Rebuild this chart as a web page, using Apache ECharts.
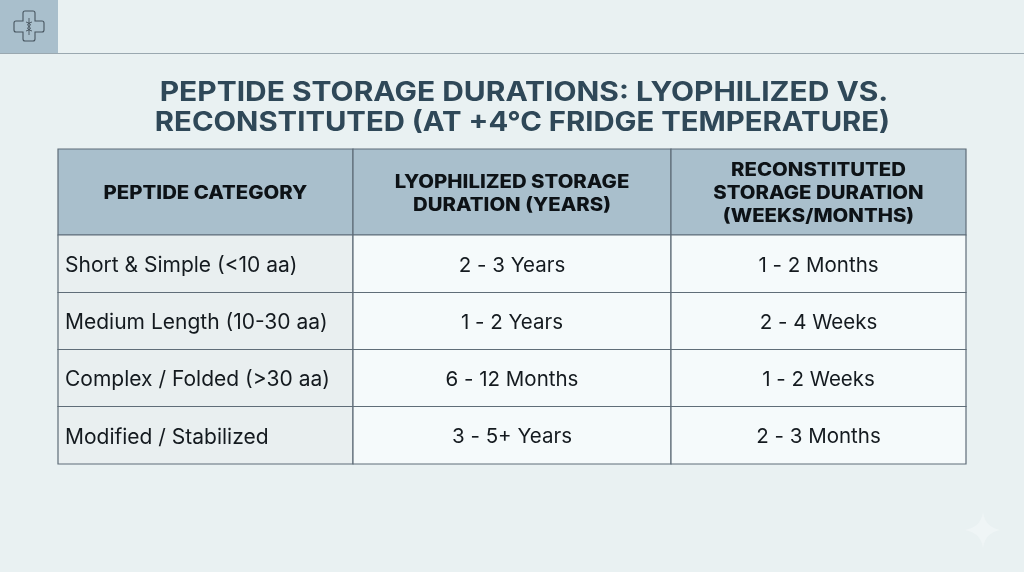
<!DOCTYPE html>
<html>
<head>
<meta charset="utf-8">
<title>Peptide storage durations</title>
<style>
html, body { margin: 0; padding: 0; background: #e9f1f2; }
#main { width: 1024px; height: 572px; }
</style>
<script src="https://cdn.jsdelivr.net/npm/echarts@6/dist/echarts.min.js"></script>
</head>
<body>
<div id="main"></div>
<script>
var titleLines = ['PEPTIDE STORAGE DURATIONS: LYOPHILIZED VS.', 'RECONSTITUTED (AT +4°C FRIDGE TEMPERATURE)'];
var columnNames = ['PEPTIDE CATEGORY', 'LYOPHILIZED STORAGE\nDURATION (YEARS)', 'RECONSTITUTED\nSTORAGE DURATION\n(WEEKS/MONTHS)'];
var categories = ['Short & Simple (<10 aa)', 'Medium Length (10-30 aa)', 'Complex / Folded (>30 aa)', 'Modified / Stabilized'];
var lyophilized = ['2 - 3 Years', '1 - 2 Years', '6 - 12 Months', '3 - 5+ Years'];
var reconstituted = ['1 - 2 Months', '2 - 4 Weeks', '1 - 2 Weeks', '2 - 3 Months'];

// table layout, in pixels of the grid below
var colStart = [0, 295, 613, 908];
var rowStart = [0, 86, 143.5, 200.5, 257.5, 315];

var font = 'Inter';
var cells = [];
for (var c = 0; c < columnNames.length; c++) {
	cells.push([c, 0, columnNames[c]]);
}
for (var r = 0; r < categories.length; r++) {
	cells.push([0, r + 1, categories[r]]);
	cells.push([1, r + 1, lyophilized[r]]);
	cells.push([2, r + 1, reconstituted[r]]);
}

function renderCell(params, api) {
	var col = api.value(0);
	var row = api.value(1);
	var text = cells[params.dataIndex][2];
	var p1 = api.coord([colStart[col], rowStart[row]]);
	var p2 = api.coord([colStart[col + 1], rowStart[row + 1]]);
	var isHead = row === 0;
	var fill = isHead ? '#a9bfcc' : (col === 0 ? '#e9eff0' : '#f5fafb');
	var mid = isHead || col > 0;
	return {
		type: 'group',
		children: [{
			type: 'rect',
			shape: { x: p1[0], y: p1[1], width: p2[0] - p1[0], height: p2[1] - p1[1] },
			style: { fill: fill, stroke: '#5f6d78', lineWidth: 1.2 }
		}, {
			type: 'text',
			x: mid ? (p1[0] + p2[0]) / 2 : p1[0] + 7,
			y: (p1[1] + p2[1]) / 2 + (isHead ? 1.5 : 2),
			scaleX: isHead ? 1.1 : 1,
			style: {
				text: text,
				fill: isHead ? '#0d1216' : '#141a1f',
				font: (isHead ? '800 18.5px ' : (col === 0 ? '400 21px ' : '400 20.5px ')) + font,
				lineHeight: 23,
				align: mid ? 'center' : 'left',
				verticalAlign: 'middle'
			}
		}]
	};
}

// the logo in the corner and the faint sparkle at the bottom right
function renderDecor() {
	return {
		type: 'group',
		children: [{
			type: 'path',
			shape: {
				pathData: 'M25 11 H33 Q35 11 35 13 V21 H42 Q44 21 44 23 V30 Q44 32 42 32 H35 V39 Q35 41 33 41 H25 Q23 41 23 39 V32 H16 Q14 32 14 30 V23 Q14 21 16 21 H23 V13 Q23 11 25 11 Z',
				x: 14, y: 11, width: 30, height: 30
			},
			style: { fill: 'none', stroke: '#47555f', lineWidth: 1.1 }
		}, {
			type: 'path',
			shape: {
				pathData: 'M29 18 V35 M26 22 Q33 24 29 26.5 Q25 29 32 31 M32 22 Q25 24 29 26.5 Q33 29 26 31',
				x: 25.5, y: 18, width: 7, height: 17
			},
			style: { fill: 'none', stroke: '#47555f', lineWidth: 0.9 }
		}, {
			type: 'path',
			shape: {
				pathData: 'M983 512 Q985 527 1000 530 Q985 533 983 548 Q981 533 965 530 Q981 527 983 512 Z',
				x: 965, y: 512, width: 35, height: 36
			},
			style: { fill: '#eff5f6' }
		}]
	};
}

var myChart = echarts.init(document.getElementById('main'), null, { renderer: 'canvas' });

myChart.setOption({
	animation: false,
	backgroundColor: '#e9f1f2',
	grid: { left: 58, top: 149, width: 908, height: 315 },
	xAxis: { type: 'value', min: 0, max: 908, show: false },
	yAxis: { type: 'value', min: 0, max: 315, inverse: true, show: false },
	series: [{
		type: 'custom',
		coordinateSystem: 'cartesian2d',
		renderItem: renderCell,
		encode: { x: 0, y: 1 },
		silent: true,
		data: cells
	}, {
		type: 'custom',
		coordinateSystem: 'none',
		renderItem: renderDecor,
		silent: true,
		data: [0]
	}],
	graphic: [
		{ type: 'rect', shape: { x: 0, y: 0, width: 58, height: 53 }, style: { fill: '#a9bfcc' }, z: 1 },
		{ type: 'line', shape: { x1: 0, y1: 53.5, x2: 1024, y2: 53.5 }, style: { stroke: '#9aa8b0', lineWidth: 1 }, z: 1 },
		{
			type: 'text', x: 524, y: 93.5, scaleX: 1.13, z: 3,
			style: { text: titleLines[0], font: '700 26.5px ' + font, fill: '#2f4858', align: 'center', verticalAlign: 'middle' }
		},
		{
			type: 'text', x: 522.5, y: 123.5, scaleX: 1.105, z: 3,
			style: { text: titleLines[1], font: '700 26.5px ' + font, fill: '#2f4858', align: 'center', verticalAlign: 'middle' }
		}
	]
});
</script>
</body>
</html>
